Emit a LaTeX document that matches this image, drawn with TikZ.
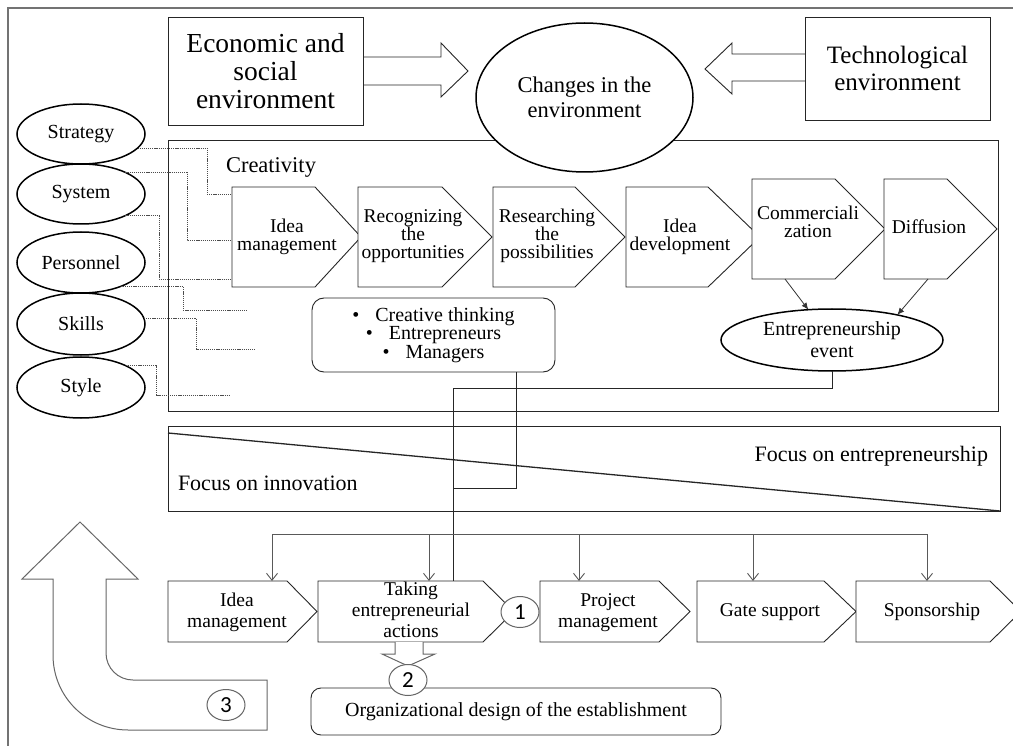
\documentclass[tikz,border=0pt]{standalone}
\usepackage{fontspec}
\setmainfont{Liberation Serif}
\newfontfamily\numfont{Carlito}
\usetikzlibrary{arrows.meta,calc,shapes.geometric}

% chevron: name, left, top, body end, tip, bottom, text x, text y, text
\newcommand\chevronshape[9]{%
  \path[chevron] (#2,#3) -- (#4,#3) -- (#5,{(#3+#6)/2}) -- (#4,#6) -- (#2,#6) -- cycle;
  \coordinate (#1-nw) at (#2,#3);
  \coordinate (#1-sw) at (#2,#6);
  \coordinate (#1-w) at (#2,{(#3+#6)/2});
  \node[chevtext] (#1) at (#7,#8) {#9};
}

\begin{document}
\lineskiplimit=-40pt
\begin{tikzpicture}[x=1pt,y=-1pt,
  every node/.style={inner sep=0pt, outer sep=0pt, font=\fontsize{19.5}{18}\selectfont},
  frame/.style={draw=black!55, line width=2pt},
  ink/.style={draw=black!85, line width=0.9pt},
  box/.style={draw=black!85, line width=0.9pt, fill=white, align=center},
  oval/.style={ellipse, draw=black, line width=1.5pt, fill=white, align=center},
  chevron/.style={draw=black!85, line width=0.9pt, fill=white, line join=miter},
  chevtext/.style={align=center, font=\fontsize{19.5}{18}\selectfont},
  dotline/.style={draw=black!70, line width=0.7pt, dash pattern=on 1.2pt off 0.9pt},
  link/.style={draw=black!85, line width=0.8pt},
  smallarrow/.style={draw=black!80, line width=0.8pt, -{Latex[length=7pt,width=6pt]}},
  dist/.style={draw=black!65, line width=0.9pt},
  distarrow/.style={dist, -{Straight Barb[length=7pt,width=11pt]}},
  hollow/.style={draw=black!60, line width=1pt, fill=white, line join=miter},
  numcirc/.style={ellipse, draw=black!60, line width=1pt, fill=white,
    minimum width=38pt, minimum height=31pt, font=\numfont\fontsize{23}{23}\selectfont},
]
\useasboundingbox (0,0) rectangle (1013,746);
\fill[white] (0,0) rectangle (1013,746);

% outer frame
\draw[frame] (8,760) -- (8,8) -- (1020,8);

% main panels
\draw[ink] (168,140) rectangle (998,411);
\draw[ink] (168,426) rectangle (1000,511);
\draw[ink, line width=1.3pt] (168,433) -- (1000,511);

% environment
\node[box, minimum width=195pt, minimum height=108pt, font=\fontsize{27.5}{28}\selectfont]
  (econ) at (265.5,71) {Economic and\\social\\environment};
\node[box, minimum width=185pt, minimum height=103pt, font=\fontsize{25}{27}\selectfont]
  (tech) at (897.5,68.5) {Technological\\environment};
\draw[ink] (econ.east |- 0,57) -- (441,57) -- (441,43) -- (468,71) -- (441,97) -- (441,85) -- (econ.east |- 0,85);
\draw[ink] (tech.west |- 0,54) -- (732,54) -- (732,43) -- (705,69) -- (732,94) -- (732,81) -- (tech.west |- 0,81);
\node[oval, minimum width=217pt, minimum height=149pt, font=\fontsize{22.5}{25}\selectfont]
  (changes) at (584.5,97.5) {Changes in the\\environment};

\node[anchor=base west, font=\fontsize{22.5}{24}\selectfont] (creat) at (226,173) {Creativity};

% creativity chain
\chevronshape{im1}{232}{187}{315}{361}{287}{287}{237}{Idea\\management}
\chevronshape{rec}{358}{187}{442}{492}{287}{413}{236}{Recognizing\\the\\opportunities}
\chevronshape{res}{493}{187}{575}{625}{287}{547}{236}{Researching\\the\\possibilities}
\chevronshape{dev}{626}{187}{708}{760}{287}{680}{237}{Idea\\development}
\chevronshape{com}{752}{179}{835}{885}{279}{808}{222}{Commerciali\\zation}
\chevronshape{dif}{884}{179}{947}{997}{279}{929}{227}{Diffusion}

% people
\node[box, rounded corners=12pt, minimum width=243pt, minimum height=74pt,
  font=\fontsize{20}{18.5}\selectfont]
  (bullets) at (433.5,335) {\textbullet\hspace{16pt}Creative thinking\\\textbullet\hspace{16pt}Entrepreneurs\\\textbullet\hspace{16pt}Managers};

% entrepreneurship event
\node[oval, minimum width=222pt, minimum height=62pt, font=\fontsize{20}{22}\selectfont]
  (event) at (832,340) {Entrepreneurship\\event};
\draw[smallarrow] ($(com-sw)+(33,0)$) -- (event.128);
\draw[smallarrow] ($(dif-sw)+(44,0)$) -- (event.21);

% focus band
\node[anchor=base east, font=\fontsize{22}{24}\selectfont] (fent) at (988,461) {Focus on entrepreneurship};
\node[anchor=base west, font=\fontsize{22}{24}\selectfont] (finn) at (178,490) {Focus on innovation};

% left organisational elements
\node[oval, minimum width=128pt, minimum height=60pt, font=\fontsize{20}{20}\selectfont] (strategy) at (81,134) {Strategy};
\node[oval, minimum width=128pt, minimum height=60pt, font=\fontsize{20}{20}\selectfont] (system) at (81,194) {System};
\node[oval, minimum width=128pt, minimum height=61pt, font=\fontsize{20}{20}\selectfont] (personnel) at (81,262.5) {Personnel};
\node[oval, minimum width=128pt, minimum height=62pt, font=\fontsize{20}{20}\selectfont] (skills) at (81,324) {Skills};
\node[oval, minimum width=128pt, minimum height=61pt, font=\fontsize{20}{20}\selectfont] (style) at (81,387.5) {Style};

\draw[dotline] (strategy.-14) -| (207,194) -- (im1-w |- 0,194);
\draw[dotline] (system.26) -| (187,240) -- (im1-w |- 0,240);
\draw[dotline] (system.-26) -| (159,279) -- (im1-w |- 0,279);
\coordinate (p1) at (247,310);
\coordinate (p2) at (255,349);
\coordinate (p3) at (230,395);
\draw[dotline] (personnel.-31) -| (183,310) -- (p1);
\draw[dotline] (skills.5) -| (196,349) -- (p2);
\draw[dotline] (style.26) -| (156,395) -- (p3);

% entrepreneurial actions
\tikzset{chevtext/.style={align=center, font=\fontsize{19.5}{21}\selectfont}}
\chevronshape{im2}{168}{581}{287}{317}{642}{237}{612}{Idea\\management}
\chevronshape{take}{318}{581}{483}{514}{642}{411}{610}{Taking\\entrepreneurial\\actions}
\chevronshape{proj}{540}{581}{659}{690}{642}{608}{613}{Project\\management}
\chevronshape{gate}{697}{581}{824}{856}{642}{770}{612}{Gate support}
\chevronshape{spon}{856}{581}{990}{1021}{642}{932}{612}{Sponsorship}
\node[numcirc] (c1) at (520,612) {1};

% feeding lines
\coordinate (j1) at (453,388);
\coordinate (j2) at (453,488);
\draw[link] (event.south) |- (j1) -- (j1 |- take-nw);
\draw[link] ($(bullets.south)+(83,0)$) |- (j2);

\coordinate (d1) at (272,534);
\coordinate (d5) at (927,534);
\draw[dist] (d1) -- (d5);
\draw[distarrow] (d1) -- (im2-nw -| 272,0);
\draw[distarrow] (429,534) -- (take-nw -| 429,0);
\draw[distarrow] (579,534) -- (proj-nw -| 579,0);
\draw[distarrow] (753,534) -- (gate-nw -| 753,0);
\draw[distarrow] (d5) -- (spon-nw -| 927,0);

% organisational design
\node[box, rounded corners=10pt, minimum width=410pt, minimum height=47pt, font=\fontsize{20}{22}\selectfont]
  (org) at (516,711.5) {Organizational design of the establishment};
\draw[hollow] (395,642) -- (395,654) -- (382,654) -- (408,666) -- (435,654) -- (423,654) -- (423,642);
\node[numcirc] (c2) at (408,680) {2};

% feedback arrow
\draw[hollow] (80,522) -- (138,579) -- (106,579) -- (106,653)
  .. controls (106,668) and (118,680) .. (133,680) -- (267,680) -- (267,730) -- (128,730)
  .. controls (87,730) and (53,697) .. (53,655) -- (53,579) -- (22,579) -- cycle;
\node[numcirc] (c3) at (226,705) {3};
\end{tikzpicture}
\end{document}
